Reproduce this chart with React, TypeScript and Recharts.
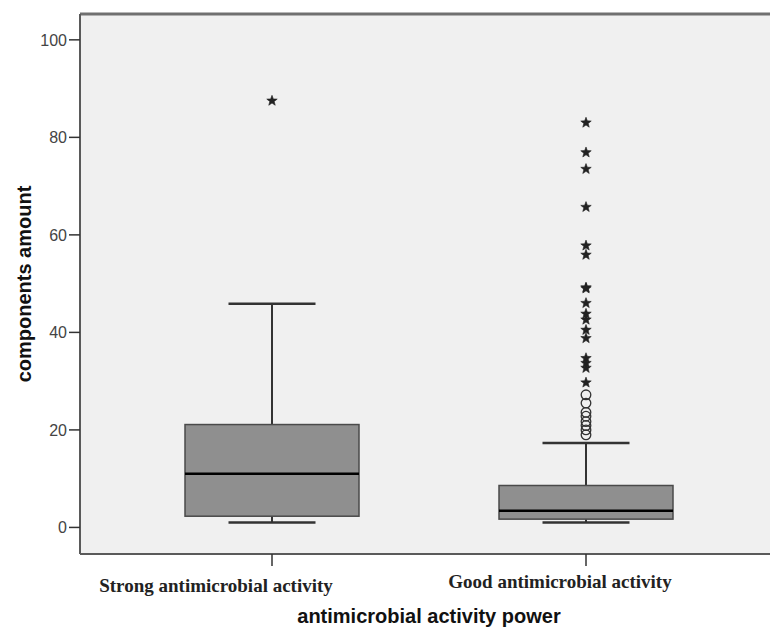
import {
  Bar,
  CartesianGrid,
  ComposedChart,
  Label,
  ReferenceLine,
  Scatter,
  XAxis,
  YAxis,
} from 'recharts';

const groups = ['Strong antimicrobial activity', 'Good antimicrobial activity'];
const whiskerLow = [1.0, 1.0];
const q1 = [2.3, 1.7];
const median = [11.0, 3.4];
const q3 = [21.1, 8.6];
const whiskerHigh = [45.9, 17.3];

// extreme values (stars) and outliers (circles)
const extremeStrong = [87.5];
const extremeGood = [
  83.0, 76.9, 73.5, 65.7, 57.8, 55.9, 49.2, 49.0, 46.0, 43.8, 42.6, 40.5, 38.8, 34.7,
  33.7, 32.7, 29.7,
];
const outlierGood = [27.2, 25.5, 23.6, 22.8, 21.7, 20.9, 20.0, 19.0];

const yTicks = [0, 20, 40, 60, 80, 100];
const yMin = -5.45;
const yMax = 105.3;

// SPSS puts the category labels a bit left of the tick
const tickShift = [
  { dx: -56, dy: 24 },
  { dx: -26, dy: 20 },
];

const boxData = groups.map((name, i) => ({
  name,
  low: whiskerLow[i],
  q1: q1[i],
  median: median[i],
  q3: q3[i],
  high: whiskerHigh[i],
}));

const starData = [
  ...extremeStrong.map((value) => ({ name: groups[0], value })),
  ...extremeGood.map((value) => ({ name: groups[1], value })),
];
const circleData = outlierGood.map((value) => ({ name: groups[1], value }));

const frame = '#5a5a5a';
const sans = '"Liberation Sans", Arial, sans-serif';
const serif = '"Liberation Serif", "Times New Roman", serif';

const BoxShape = (props: any) => {
  const { x, y, width, height, payload } = props;
  const top = payload.high;
  const bottom = payload.low;
  const toY = (v: number) => y + (height * (top - v)) / (top - bottom);
  const cx = x + width / 2;
  const cap = width / 4;
  const boxTop = toY(payload.q3);
  const boxBottom = toY(payload.q1);
  return (
    <g>
      <line x1={cx} x2={cx} y1={toY(top)} y2={boxTop} stroke="#333" strokeWidth={2} />
      <line x1={cx} x2={cx} y1={boxBottom} y2={toY(bottom)} stroke="#333" strokeWidth={2} />
      <line x1={cx - cap} x2={cx + cap} y1={toY(top)} y2={toY(top)} stroke="#333" strokeWidth={2.5} />
      <line x1={cx - cap} x2={cx + cap} y1={toY(bottom)} y2={toY(bottom)} stroke="#333" strokeWidth={2.5} />
      <rect
        x={x}
        y={boxTop}
        width={width}
        height={boxBottom - boxTop}
        fill="#8f8f8f"
        stroke="#4a4a4a"
        strokeWidth={1.5}
      />
      <line
        x1={x}
        x2={x + width}
        y1={toY(payload.median)}
        y2={toY(payload.median)}
        stroke="#000"
        strokeWidth={2.5}
      />
    </g>
  );
};

const Star = (props: any) => {
  const { cx, cy } = props;
  const pts: string[] = [];
  for (let k = 0; k < 10; k++) {
    const r = k % 2 === 0 ? 5.5 : 2.3;
    const a = -Math.PI / 2 + (k * Math.PI) / 5;
    pts.push(`${cx + r * Math.cos(a)},${cy + r * Math.sin(a)}`);
  }
  return <polygon points={pts.join(' ')} fill="#222" stroke="#222" strokeWidth={0.6} />;
};

const Ring = (props: any) => {
  const { cx, cy } = props;
  return <circle cx={cx} cy={cy} r={4.8} fill="none" stroke="#333" strokeWidth={1.3} />;
};

const CategoryTick = (props: any) => {
  const { x, y, payload, index } = props;
  const s = tickShift[index] || { dx: 0, dy: 22 };
  return (
    <text
      x={x + s.dx}
      y={y + s.dy}
      textAnchor="middle"
      fontFamily={serif}
      fontWeight="bold"
      fontSize={19}
      fill="#222"
    >
      {payload.value}
    </text>
  );
};

export default function App() {
  return (
    <div style={{ position: 'absolute', left: 0, top: 0, width: 770, height: 627, background: '#fff' }}>
      <ComposedChart
        width={770}
        height={627}
        data={boxData}
        margin={{ top: 14, right: 0, bottom: 0, left: 0 }}
      >
        <CartesianGrid horizontal={false} vertical={false} fill="#f0f0f0" />
        <XAxis
          dataKey="name"
          type="category"
          allowDuplicatedCategory={false}
          padding={{ left: 35, right: 27 }}
          height={73}
          tickSize={12}
          tickLine={{ stroke: '#333', strokeWidth: 1.5 }}
          axisLine={{ stroke: frame, strokeWidth: 2 }}
          tick={<CategoryTick />}
          interval={0}
        >
          <Label
            content={(p: any) => {
              const vb = p.viewBox;
              return (
                <text
                  x={vb.x + vb.width / 2 + 4}
                  y={vb.y + vb.height - 4}
                  textAnchor="middle"
                  fontFamily={sans}
                  fontWeight="bold"
                  fontSize={20}
                  fill="#111"
                >
                  antimicrobial activity power
                </text>
              );
            }}
          />
        </XAxis>
        <YAxis
          type="number"
          domain={[yMin, yMax]}
          ticks={yTicks}
          width={80}
          tickSize={11}
          tickMargin={2}
          tickLine={{ stroke: '#333', strokeWidth: 1.5 }}
          axisLine={{ stroke: frame, strokeWidth: 2 }}
          tick={{ fill: '#444', fontSize: 16, fontFamily: sans }}
          allowDataOverflow
        >
          <Label
            content={(p: any) => {
              const vb = p.viewBox;
              const cy = vb.y + vb.height / 2;
              return (
                <text
                  x={24}
                  y={cy}
                  transform={`rotate(-90, 24, ${cy})`}
                  textAnchor="middle"
                  dominantBaseline="central"
                  fontFamily={sans}
                  fontWeight="bold"
                  fontSize={20}
                  fill="#111"
                >
                  components amount
                </text>
              );
            }}
          />
        </YAxis>
        <ReferenceLine y={yMax} stroke="#707070" strokeWidth={3} ifOverflow="visible" />
        <Bar
          dataKey={(d: any) => [d.low, d.high]}
          barSize={174}
          shape={<BoxShape />}
          isAnimationActive={false}
        />
        <Scatter data={circleData} dataKey="value" shape={<Ring />} isAnimationActive={false} />
        <Scatter data={starData} dataKey="value" shape={<Star />} isAnimationActive={false} />
      </ComposedChart>
    </div>
  );
}
